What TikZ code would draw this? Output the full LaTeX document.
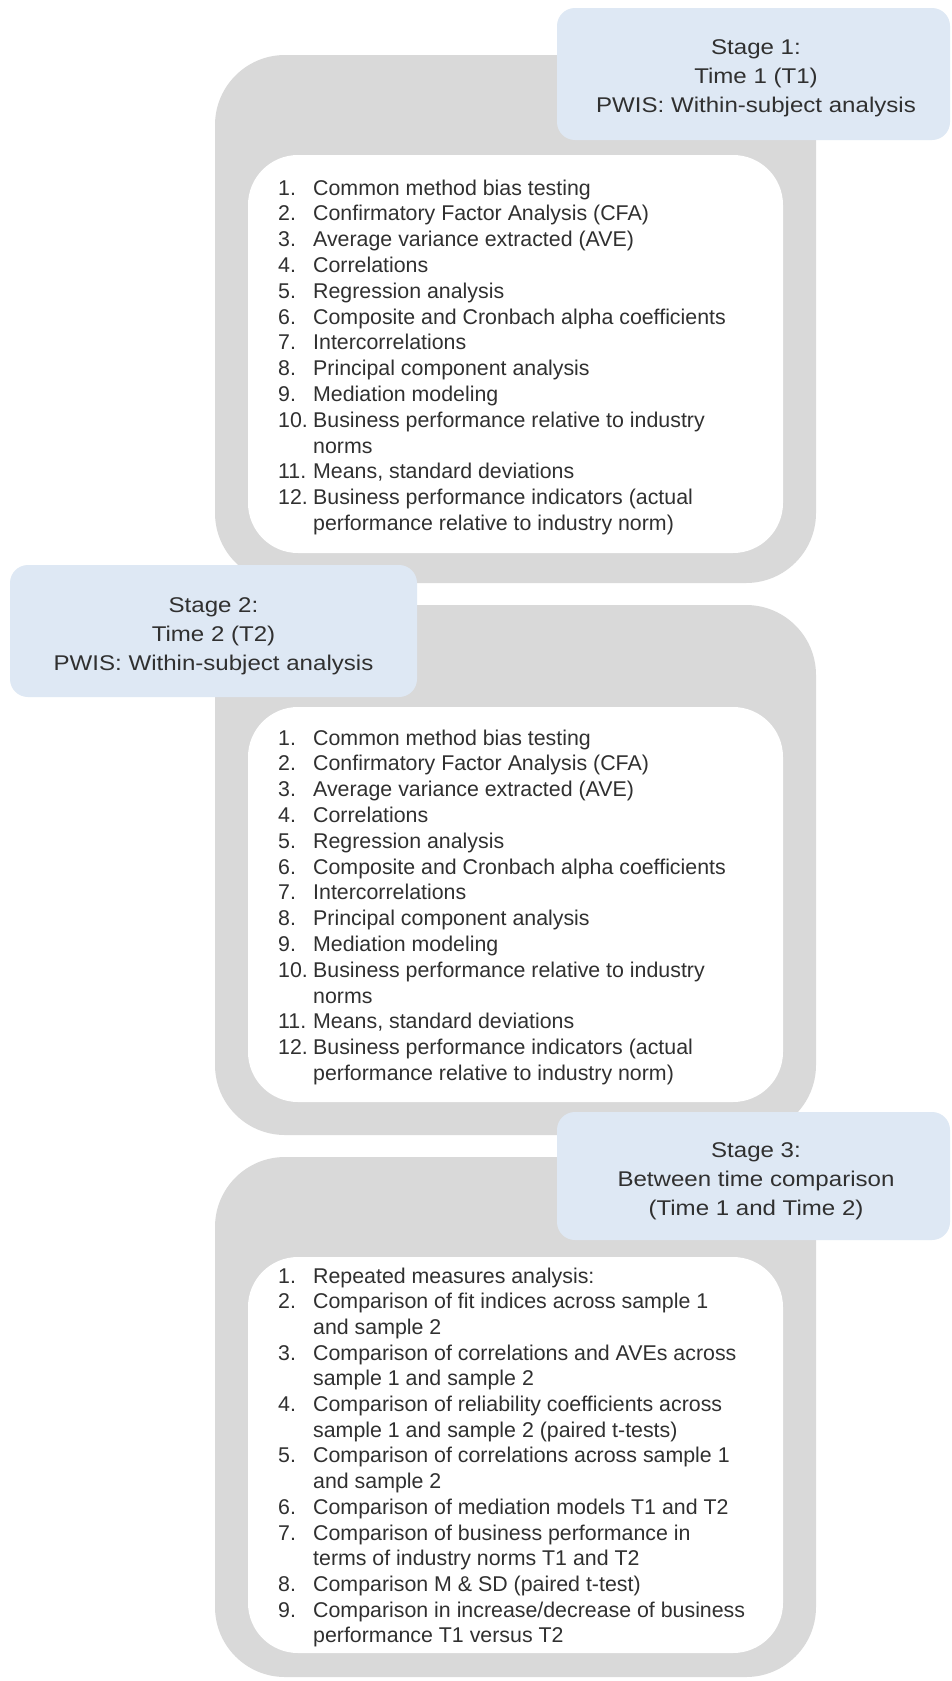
\documentclass[tikz,border=0pt]{standalone}
\usepackage{fontspec}
\setmainfont{Liberation Sans}
\newfontfamily\titlefont{Liberation Sans}[FakeStretch=1.13]
\definecolor{grayfill}{HTML}{D9D9D9}
\definecolor{bluefill}{HTML}{DEE8F4}
\definecolor{textcol}{HTML}{303030}
\newcommand{\li}[2]{\noindent\makebox[35pt][l]{#1}#2\par}
\newcommand{\lc}[1]{\noindent\hspace*{35pt}#1\par}
\begin{document}
\begin{tikzpicture}[x=1pt,y=-1pt,
  graybox/.style={fill=grayfill, rounded corners=70pt},
  whitebox/.style={fill=white, rounded corners=50pt},
  bluebox/.style={fill=bluefill, rounded corners=18pt},
  listtext/.style={inner sep=0pt, anchor=base west, text=textcol},
  titletext/.style={inner sep=0pt, anchor=base, text=textcol}]
\useasboundingbox (0,0) rectangle (951,1681);
\clip (0,0) rectangle (951,1681);
\fill[white] (0,0) rectangle (951,1681);

% Stage 1
\fill[graybox] (215,55) rectangle (816,583);
\fill[whitebox] (248,155) rectangle (783,553);
\fill[bluebox] (557,8) rectangle (950,140);
\node[titletext] (t1) at (756,54) {\parbox[t]{390pt}{\centering\titlefont\fontsize{21.3}{29}\selectfont Stage 1:\\Time 1 (T1)\\PWIS: Within-subject analysis}};
\node[listtext] (l1) at (278,195) {\parbox[t]{490pt}{\fontsize{21.35}{25.8}\selectfont
\li{1.}{Common method bias testing}
\li{2.}{Confirmatory Factor Analysis (CFA)}
\li{3.}{Average variance extracted (AVE)}
\li{4.}{Correlations}
\li{5.}{Regression analysis}
\li{6.}{Composite and Cronbach alpha coefficients}
\li{7.}{Intercorrelations}
\li{8.}{Principal component analysis}
\li{9.}{Mediation modeling}
\li{10.}{Business performance relative to industry}
\lc{norms}
\li{11.}{Means, standard deviations}
\li{12.}{Business performance indicators (actual}
\lc{performance relative to industry norm)}}};

% Stage 2
\fill[graybox] (215,605) rectangle (816,1135);
\fill[whitebox] (248,707) rectangle (783,1102);
\fill[bluebox] (10,565) rectangle (417,697);
\node[titletext] (t2) at (213.5,612) {\parbox[t]{400pt}{\centering\titlefont\fontsize{21.3}{29}\selectfont Stage 2:\\Time 2 (T2)\\PWIS: Within-subject analysis}};
\node[listtext] (l2) at (278,745) {\parbox[t]{490pt}{\fontsize{21.35}{25.8}\selectfont
\li{1.}{Common method bias testing}
\li{2.}{Confirmatory Factor Analysis (CFA)}
\li{3.}{Average variance extracted (AVE)}
\li{4.}{Correlations}
\li{5.}{Regression analysis}
\li{6.}{Composite and Cronbach alpha coefficients}
\li{7.}{Intercorrelations}
\li{8.}{Principal component analysis}
\li{9.}{Mediation modeling}
\li{10.}{Business performance relative to industry}
\lc{norms}
\li{11.}{Means, standard deviations}
\li{12.}{Business performance indicators (actual}
\lc{performance relative to industry norm)}}};

% Stage 3
\fill[graybox] (215,1157) rectangle (816,1677);
\fill[whitebox] (248,1257) rectangle (783,1653);
\fill[bluebox] (557,1112) rectangle (950,1240);
\node[titletext] (t3) at (756,1157) {\parbox[t]{390pt}{\centering\titlefont\fontsize{21.3}{29}\selectfont Stage 3:\\Between time comparison\\(Time 1 and Time 2)}};
\node[listtext] (l3) at (278,1283) {\parbox[t]{490pt}{\fontsize{21.35}{25.7}\selectfont
\li{1.}{Repeated measures analysis:}
\li{2.}{Comparison of fit indices across sample 1}
\lc{and sample 2}
\li{3.}{Comparison of correlations and AVEs across}
\lc{sample 1 and sample 2}
\li{4.}{Comparison of reliability coefficients across}
\lc{sample 1 and sample 2 (paired t-tests)}
\li{5.}{Comparison of correlations across sample 1}
\lc{and sample 2}
\li{6.}{Comparison of mediation models T1 and T2}
\li{7.}{Comparison of business performance in}
\lc{terms of industry norms T1 and T2}
\li{8.}{Comparison M \& SD (paired t-test)}
\li{9.}{Comparison in increase/decrease of business}
\lc{performance T1 versus T2}}};
\end{tikzpicture}
\end{document}
